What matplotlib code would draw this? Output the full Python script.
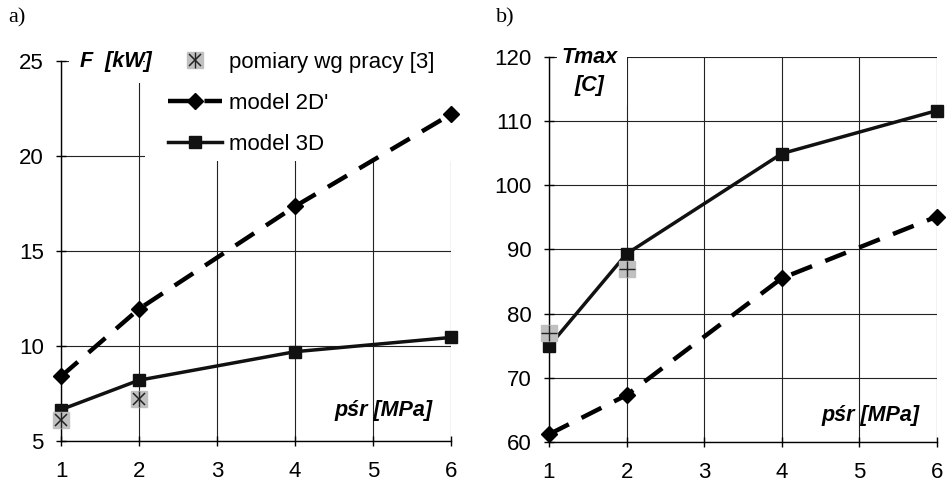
import matplotlib
matplotlib.use("Agg")
import matplotlib.pyplot as plt
from matplotlib.patches import Rectangle
from matplotlib.legend_handler import HandlerTuple

plt.rcParams['font.family'] = ['Liberation Sans', 'DejaVu Sans']

# ---- data ----
x_model = [1, 2, 4, 6]
x_meas = [1, 2]
x_ticks = [1, 2, 3, 4, 5, 6]

F_2d = [8.4, 11.95, 17.35, 22.2]
F_3d = [6.65, 8.2, 9.7, 10.45]
F_meas = [6.1, 7.2]
F_yticks = [5, 10, 15, 20, 25]

T_2d = [61.2, 67.3, 85.5, 95.1]
T_3d = [74.9, 89.3, 104.9, 111.6]
T_meas = [76.9, 87.0]
T_yticks = [60, 70, 80, 90, 100, 110, 120]

lbl_meas = "pomiary wg pracy [3]"
lbl_2d = "model 2D'"
lbl_3d = "model 3D"

fig = plt.figure(figsize=(9.48, 4.86), dpi=100)
axL = fig.add_axes([61/948, 1-441/486, 390/948, 380/486])
axR = fig.add_axes([549/948, 1-442/486, 388/948, 385.4/486])

GRAY = '#c0c0c0'
FS = 16

def setup(ax, yticks):
    ax.set_xlim(1, 6)
    ax.set_ylim(yticks[0], yticks[-1])
    ax.set_xticks(x_ticks)
    ax.set_yticks(yticks)
    ax.grid(True, color='#222222', lw=0.8)
    for s in ['top', 'right']:
        ax.spines[s].set_visible(False)
    for s in ['left', 'bottom']:
        ax.spines[s].set_color('black')
        ax.spines[s].set_linewidth(1.0)
    ax.tick_params(axis='both', direction='inout', length=7, width=1,
                   labelsize=FS, colors='black')
    ax.tick_params(axis='x', pad=11)
    ax.tick_params(axis='y', pad=9)

def draw(ax, y2d, y3d, ymeas, cross):
    l2, = ax.plot(x_model, y2d, color='black', lw=3.2, ls=(0, (5, 3.2)),
                  marker='D', ms=8, clip_on=False, zorder=5)
    l3, = ax.plot(x_model, y3d, color='#111111', lw=2.5, ls='-',
                  marker='s', ms=8.5, clip_on=False, zorder=5)
    m1, = ax.plot(x_meas, ymeas, ls='none', marker='s', ms=12,
                  color=GRAY, mec=GRAY, clip_on=False, zorder=6)
    hs = [m1]
    if cross:
        m2, = ax.plot(x_meas, ymeas, ls='none', marker='x', ms=9, mew=1.1,
                      color='#222222', clip_on=False, zorder=7)
        m3, = ax.plot(x_meas, ymeas, ls='none', marker='|', ms=11, mew=1.0,
                      color='#222222', clip_on=False, zorder=7)
        hs += [m2, m3]
    else:
        m2, = ax.plot(x_meas, ymeas, ls='none', marker='+', ms=11, mew=1.0,
                      color='#222222', clip_on=False, zorder=7)
        hs += [m2]
    return l2, l3, tuple(hs)

setup(axL, F_yticks)
setup(axR, T_yticks)

l2, l3, hm = draw(axL, F_2d, F_3d, F_meas, True)
draw(axR, T_2d, T_3d, T_meas, False)

# white areas hiding the grid behind labels / legend
axL.add_patch(Rectangle((0.215, 0.737), 0.79, 0.35, transform=axL.transAxes,
                        facecolor='white', edgecolor='none', zorder=1.6, clip_on=False))
axL.add_patch(Rectangle((0.02, 0.942), 0.19, 0.12, transform=axL.transAxes,
                        facecolor='white', edgecolor='none', zorder=1.6, clip_on=False))
axR.add_patch(Rectangle((0.02, 0.874), 0.181, 0.15, transform=axR.transAxes,
                        facecolor='white', edgecolor='none', zorder=1.6, clip_on=False))

# legend (left panel)
leg = axL.legend([hm, l2, l3], [lbl_meas, lbl_2d, lbl_3d],
                 loc='upper left', bbox_to_anchor=(0.274, 1.0245),
                 frameon=False, fontsize=FS, handlelength=2.45,
                 handletextpad=0.3, labelspacing=0.91, borderpad=0.0,
                 borderaxespad=0.0,
                 handler_map={tuple: HandlerTuple(ndivide=1, pad=0)})
leg.set_zorder(10)

bold_it = dict(fontsize=15.5, fontweight='bold', fontstyle='italic', color='black')

# axis labels
axL.text(0.05, 1.0, "F  [kW]", transform=axL.transAxes, ha='left', va='center',
         zorder=11, **bold_it)
axL.text(0.953, 0.08, "pśr [MPa]", transform=axL.transAxes, ha='right', va='center',
         zorder=11, **bold_it)

axR.text(0.105, 0.961, "Tmax\n[C]", transform=axR.transAxes, ha='center', va='center',
         linespacing=1.4, zorder=11, **bold_it)
axR.text(0.955, 0.07, "pśr [MPa]", transform=axR.transAxes, ha='right', va='center',
         zorder=11, **bold_it)

# panel letters
fig.text(8/948, 1-18/486, "a)", fontsize=16, family='Liberation Serif', va='center')
fig.text(496/948, 1-18/486, "b)", fontsize=16, family='Liberation Serif', va='center')

fig.savefig("out.png", dpi=100)
